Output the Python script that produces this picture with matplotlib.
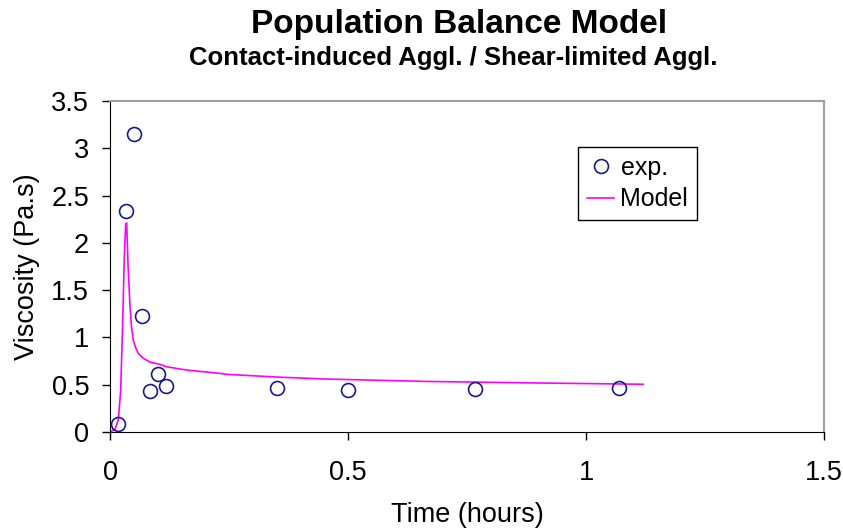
import numpy as np
import matplotlib.pyplot as plt

plt.rcParams['font.family'] = ['Liberation Sans', 'DejaVu Sans']

# experimental points
exp_time = [0.017, 0.034, 0.050, 0.067, 0.084, 0.101, 0.118, 0.351, 0.500, 0.767, 1.069]
exp_visc = [0.08, 2.34, 3.15, 1.23, 0.43, 0.61, 0.49, 0.47, 0.44, 0.46, 0.47]

# model curve
model_time = [0.0, 0.0105, 0.0175, 0.0224, 0.0266, 0.030, 0.033, 0.035, 0.038, 0.042,
              0.045, 0.049, 0.054, 0.0595, 0.070, 0.084, 0.105, 0.119, 0.161, 0.231,
              0.245, 0.355, 0.455, 0.665, 0.875, 1.12]
model_visc = [0.0, 0.03, 0.13, 0.44, 1.15, 1.85, 2.2, 2.21, 1.75, 1.33,
              1.12, 0.97, 0.89, 0.83, 0.78, 0.74, 0.715, 0.69, 0.655, 0.62,
              0.61, 0.58, 0.56, 0.535, 0.52, 0.505]

fig = plt.figure(figsize=(8.43, 5.31), dpi=100)
ax = fig.add_axes([0.1305, 0.1864, 0.847, 0.6234])

ax.plot(exp_time, exp_visc, 'o', markersize=10, markerfacecolor='none',
        markeredgecolor='#1a1a8c', markeredgewidth=1.2, label='exp.', zorder=3)
ax.plot(model_time, model_visc, color='#ff00ff', linewidth=1.2, label='Model')

ax.set_xlim(0, 1.5)
ax.set_ylim(0, 3.5)
ax.set_xticks([0, 0.5, 1, 1.5])
ax.set_xticklabels(['0', '0.5', '1', '1.5'])
ax.set_yticks([0, 0.5, 1, 1.5, 2, 2.5, 3, 3.5])
ax.set_yticklabels(['0', '0.5', '1', '1.5', '2', '2.5', '3', '3.5'])
ax.tick_params(axis='x', direction='out', length=6, width=1, labelsize=19.5, pad=14)
ax.tick_params(axis='y', direction='out', length=6, width=1, labelsize=19.5, pad=9)

for s in ['top', 'right']:
    ax.spines[s].set_color('#a0a0a0')
    ax.spines[s].set_linewidth(1.5)
ax.spines['left'].set_color('black')
ax.spines['bottom'].set_color('black')

ax.set_xlabel('Time (hours)', fontsize=19.5)
ax.set_ylabel('Viscosity (Pa.s)', fontsize=19.5)
ax.xaxis.set_label_coords(0.5, (432 - 515) / 331)
ax.xaxis.label.set_va('center')
ax.yaxis.set_label_coords((27 - 110) / 714, 0.5)
ax.yaxis.label.set_va('center')

leg = ax.legend(loc='upper left', bbox_to_anchor=(578 / 843, 1 - 147 / 531),
                bbox_transform=fig.transFigure, fontsize=18, frameon=True,
                fancybox=False, framealpha=1, edgecolor='black',
                handlelength=1.1, handletextpad=0.25, borderpad=0.35,
                labelspacing=0.3, borderaxespad=0)
leg.get_frame().set_linewidth(1.0)

fig.text(459 / 843, 1 - 24 / 531, 'Population Balance Model', ha='center', va='center',
         fontsize=24, fontweight='bold')
fig.text(453 / 843, 1 - 58 / 531, 'Contact-induced Aggl. / Shear-limited Aggl.',
         ha='center', va='center', fontsize=18.5, fontweight='bold')

fig.savefig('out.png', dpi=100)
